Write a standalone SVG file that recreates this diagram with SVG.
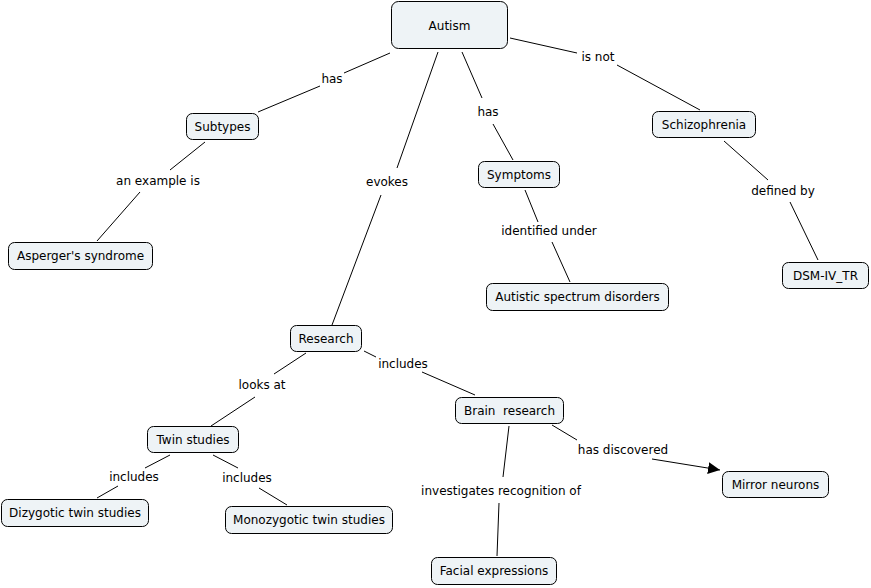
<svg xmlns="http://www.w3.org/2000/svg" width="871" height="588" viewBox="0 0 871 588">
<style>
.n rect{fill:#eef3f6;stroke:#000;stroke-width:1}
text{font-family:"DejaVu Sans",Verdana,sans-serif;font-size:12px;fill:#000;text-anchor:middle}
.c line{stroke:#000;stroke-width:1}
</style>
<defs>
<marker id="ah" viewBox="0 0 10 10" refX="10" refY="5" markerWidth="12" markerHeight="12" markerUnits="userSpaceOnUse" orient="auto"><path d="M0,0 L10,5 L0,10 z" fill="#000"/></marker>
</defs>
<rect width="871" height="588" fill="#fff"/>
<g class="c">
<line x1="390" y1="53" x2="344" y2="73"/><line x1="320" y1="86" x2="258" y2="112"/>
<line x1="205" y1="142" x2="170" y2="170"/><line x1="140" y1="192" x2="97" y2="241"/>
<line x1="438" y1="52" x2="397" y2="168"/><line x1="381" y1="195" x2="332" y2="325"/>
<line x1="462" y1="52" x2="482" y2="98"/><line x1="493" y1="124" x2="513" y2="160"/>
<line x1="510" y1="38" x2="577" y2="53"/><line x1="617" y1="65" x2="700" y2="110"/>
<line x1="724" y1="141" x2="768" y2="180"/><line x1="790" y1="202" x2="818" y2="260"/>
<line x1="525" y1="190" x2="538" y2="222"/><line x1="552" y1="242" x2="570" y2="282"/>
<line x1="306" y1="353" x2="274" y2="374"/><line x1="255" y1="397" x2="211" y2="426"/>
<line x1="364" y1="351" x2="376" y2="357"/><line x1="422" y1="372" x2="475" y2="395"/>
<line x1="170" y1="455" x2="145" y2="468"/><line x1="118" y1="486" x2="97" y2="498"/>
<line x1="213" y1="455" x2="238" y2="468"/><line x1="259" y1="488" x2="287" y2="505"/>
<line x1="509" y1="426" x2="503" y2="477"/><line x1="499" y1="503" x2="497" y2="556"/>
<line x1="552" y1="425" x2="577" y2="440"/><line x1="652" y1="459" x2="720" y2="470" marker-end="url(#ah)"/>
</g>
<g id="labels">
<text x="332" y="83">has</text>
<text x="158" y="185">an example is</text>
<text x="387" y="186">evokes</text>
<text x="488" y="116">has</text>
<text x="598" y="61">is not</text>
<text x="783" y="195">defined by</text>
<text x="549" y="235">identified under</text>
<text x="262" y="389">looks at</text>
<text x="403" y="368">includes</text>
<text x="134" y="481">includes</text>
<text x="247" y="482">includes</text>
<text x="501" y="495">investigates recognition of</text>
<text x="623" y="454">has discovered</text>
</g>
<g id="autism" class="n"><rect x="391.5" y="1.5" width="116" height="47" rx="7"/><text x="449.5" y="30">Autism</text></g>
<g id="subtypes" class="n"><rect x="186.5" y="113.5" width="72" height="26" rx="6"/><text x="222.5" y="131">Subtypes</text></g>
<g id="asperger" class="n"><rect x="8.5" y="242.5" width="144" height="27" rx="6"/><text x="80.5" y="260">Asperger's syndrome</text></g>
<g id="schizophrenia" class="n"><rect x="652.5" y="111.5" width="103" height="26" rx="6"/><text x="704" y="129">Schizophrenia</text></g>
<g id="symptoms" class="n"><rect x="478.5" y="161.5" width="81" height="26" rx="6"/><text x="519" y="179">Symptoms</text></g>
<g id="dsm" class="n"><rect x="782.5" y="262.5" width="86" height="26" rx="6"/><text x="825.5" y="280">DSM-IV_TR</text></g>
<g id="asd" class="n"><rect x="486.5" y="283.5" width="182" height="27" rx="6"/><text x="577.5" y="301">Autistic spectrum disorders</text></g>
<g id="research" class="n"><rect x="290.5" y="325.5" width="71" height="26" rx="6"/><text x="326" y="343">Research</text></g>
<g id="brain" class="n"><rect x="455.5" y="397.5" width="108" height="26" rx="6"/><text x="509.5" y="415" xml:space="preserve">Brain  research</text></g>
<g id="twin" class="n"><rect x="147.5" y="426.5" width="91" height="26" rx="6"/><text x="193" y="444">Twin studies</text></g>
<g id="mirror" class="n"><rect x="722.5" y="471.5" width="106" height="26" rx="6"/><text x="775.5" y="489">Mirror neurons</text></g>
<g id="dizygotic" class="n"><rect x="1.5" y="499.5" width="147" height="27" rx="6"/><text x="75" y="517">Dizygotic twin studies</text></g>
<g id="monozygotic" class="n"><rect x="225.5" y="506.5" width="167" height="27" rx="6"/><text x="309" y="524">Monozygotic twin studies</text></g>
<g id="facial" class="n"><rect x="431.5" y="557.5" width="125" height="27" rx="6"/><text x="494" y="575">Facial expressions</text></g>
</svg>
